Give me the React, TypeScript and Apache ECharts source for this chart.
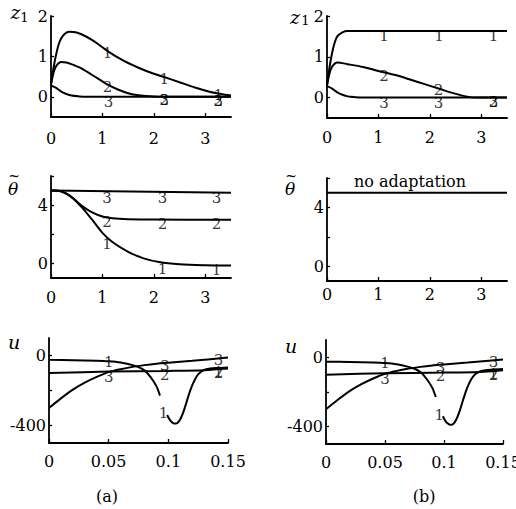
import React, { useEffect, useRef } from "react";
import * as echarts from "echarts";

// ---------- data ----------
const zTicks = [0, 1, 2, 3];
const uTicks = [0, 0.05, 0.1, 0.15];
const z1YLabels = [0, 1, 2];
const thYLabels = [0, 4];
const thYTicks = [0, 2, 4, 6];
const uYLabels = [0, -400];
const uYTicks = [0, -200, -400];

// (a) z1
const z1A1 = [[0, 0.3], [0.05, 0.72], [0.1, 1.05], [0.15, 1.3], [0.2, 1.45], [0.27, 1.56], [0.35, 1.61], [0.5, 1.59], [0.7, 1.48], [0.9, 1.32], [1.1, 1.13], [1.4, 0.9], [1.7, 0.72], [2.0, 0.57], [2.2, 0.49], [2.5, 0.36], [2.8, 0.23], [3.1, 0.12], [3.3, 0.07], [3.5, 0.03]];
const z1A2 = [[0, 0.3], [0.05, 0.6], [0.1, 0.76], [0.2, 0.86], [0.3, 0.85], [0.45, 0.78], [0.6, 0.7], [0.8, 0.54], [1.0, 0.38], [1.1, 0.3], [1.3, 0.18], [1.5, 0.09], [1.7, 0.04], [2.0, 0.01], [2.5, 0], [3.5, 0]];
const z1A3 = [[0, 0.28], [0.1, 0.22], [0.2, 0.13], [0.3, 0.07], [0.4, 0.03], [0.55, 0.01], [0.7, 0], [3.5, 0]];
// (b) z1
const z1B1 = [[0, 0.3], [0.05, 0.75], [0.1, 1.1], [0.15, 1.35], [0.2, 1.5], [0.3, 1.6], [0.4, 1.63], [0.6, 1.63], [3.5, 1.63]];
const z1B2 = [[0, 0.3], [0.05, 0.6], [0.1, 0.76], [0.2, 0.86], [0.4, 0.82], [0.7, 0.75], [1.1, 0.62], [1.4, 0.53], [1.6, 0.45], [1.9, 0.33], [2.2, 0.21], [2.45, 0.11], [2.7, 0.03], [2.9, 0], [3.5, 0]];
const z1B3 = [[0, 0.28], [0.1, 0.22], [0.2, 0.13], [0.3, 0.07], [0.4, 0.03], [0.55, 0.01], [0.7, 0], [3.5, 0]];
// (a) theta
const thA1 = [[0, 5], [0.2, 4.95], [0.4, 4.55], [0.6, 3.85], [0.8, 3.0], [1.0, 2.1], [1.2, 1.45], [1.5, 0.8], [1.8, 0.35], [2.1, 0.1], [2.5, -0.05], [3.0, -0.12], [3.5, -0.15]];
const thA2 = [[0, 5], [0.2, 4.93], [0.4, 4.55], [0.6, 3.95], [0.8, 3.5], [1.0, 3.22], [1.2, 3.1], [1.5, 3.04], [2.0, 3.01], [3.5, 3.0]];
const thA3 = [[0, 5], [3.5, 4.85]];
// (b) theta
const thB = [[0, 5], [3.5, 5]];
// u (same in a and b)
const u1 = [[0, -25], [0.02, -27], [0.04, -30], [0.05, -33], [0.06, -40], [0.07, -55], [0.075, -66], [0.08, -85], [0.085, -122], [0.09, -175], [0.093, -229], [0.096, null], [0.099, -340], [0.101, -365], [0.103, -381], [0.105, -389], [0.107, -388], [0.109, -375], [0.111, -350], [0.113, -315], [0.115, -272], [0.117, -228], [0.119, -188], [0.121, -155], [0.123, -128], [0.125, -108], [0.128, -90], [0.131, -80], [0.135, -74], [0.14, -71], [0.15, -68]];
const u2 = [[0, -100], [0.05, -92], [0.1, -88], [0.13, -84], [0.15, -75]];
const u3 = [[0, -300], [0.01, -245], [0.02, -195], [0.03, -155], [0.04, -122], [0.05, -95], [0.06, -78], [0.07, -65], [0.08, -55], [0.09, -47], [0.1, -41], [0.12, -30], [0.15, -12]];

// curve number labels [x, y, text]
const zALabels = [[1.1, 1.08, "1"], [2.2, 0.43, "1"], [3.25, 0.05, "1"], [1.1, 0.24, "2"], [2.2, -0.09, "2"], [3.25, -0.11, "2"], [1.12, -0.14, "3"], [2.2, -0.09, "3"], [3.25, -0.11, "3"]];
const zBLabels = [[1.11, 1.5, "1"], [2.18, 1.5, "1"], [3.24, 1.5, "1"], [1.11, 0.52, "2"], [2.17, 0.18, "2"], [3.24, -0.12, "2"], [1.11, -0.13, "3"], [2.17, -0.13, "3"], [3.24, -0.12, "3"]];
const thALabels = [[1.09, 4.46, "3"], [2.17, 4.46, "3"], [3.22, 4.46, "3"], [1.09, 2.85, "2"], [2.17, 2.73, "2"], [3.22, 2.73, "2"], [1.09, 1.36, "1"], [2.17, -0.37, "1"], [3.22, -0.48, "1"]];
const uLabels = [[0.05, -35, "1"], [0.05, -125, "3"], [0.097, -60, "3"], [0.097, -110, "2"], [0.096, -330, "1"], [0.142, -28, "3"], [0.142, -95, "1"], [0.142, -100, "2"]];

// ---------- option ----------
const FONT = "DejaVu Serif";
const BLACK = "#000";

const grids = [
  { left: 51, top: 16, width: 180, height: 101 },
  { left: 327, top: 16, width: 180, height: 102 },
  { left: 51, top: 176, width: 180, height: 102 },
  { left: 327, top: 178, width: 180, height: 103 },
  { left: 49, top: 338, width: 179, height: 105 },
  { left: 326, top: 340, width: 177, height: 104 },
];

function mkX(i: number, max: number, ticks: number[], margin: number) {
  return {
    type: "value", gridIndex: i, min: 0, max,
    axisLine: { show: true, onZero: false, lineStyle: { color: BLACK, width: 1.8 } },
    axisTick: { show: true, inside: true, length: 4, customValues: ticks, lineStyle: { color: BLACK, width: 1.3 } },
    axisLabel: { show: true, customValues: ticks, margin, color: BLACK, fontFamily: FONT, fontSize: 16, formatter: (v: number) => String(v) },
    splitLine: { show: false },
  };
}
function mkY(i: number, min: number, max: number, labels: number[], ticks: number[]) {
  return {
    type: "value", gridIndex: i, min, max,
    axisLine: { show: true, onZero: false, lineStyle: { color: BLACK, width: 1.8 } },
    axisTick: { show: true, inside: true, length: 3, customValues: ticks, lineStyle: { color: BLACK, width: 1.3 } },
    axisLabel: { show: true, customValues: labels, margin: 3, color: BLACK, fontFamily: FONT, fontSize: 16, formatter: (v: number) => String(v) },
    splitLine: { show: false },
  };
}
function line(i: number, data: any[]) {
  return {
    type: "line", xAxisIndex: i, yAxisIndex: i, data, showSymbol: false, symbol: "none",
    smooth: 0.3, connectNulls: false,
    lineStyle: { color: BLACK, width: 2 }, silent: true,
  };
}
function labels(i: number, arr: any[]) {
  return {
    type: "scatter", xAxisIndex: i, yAxisIndex: i, symbolSize: 0.1, silent: true,
    itemStyle: { color: "transparent" },
    data: arr.map((l) => ({ value: [l[0], l[1]], label: { formatter: l[2] } })),
    label: { show: true, position: "inside", color: BLACK, fontFamily: FONT, fontSize: 15 },
  };
}
function txt(x: number, y: number, text: string, size: number, italic = false) {
  return {
    type: "text", x, y, silent: true,
    style: {
      text, fill: BLACK, fontFamily: FONT, fontSize: size, fontStyle: italic ? "italic" : "normal",
      align: "center", verticalAlign: "middle", textAlign: "center", textVerticalAlign: "middle",
    },
  };
}

const option = {
  animation: false,
  backgroundColor: "#fff",
  grid: grids.map((g) => ({ ...g, containLabel: false, outerBoundsMode: "none" })),
  xAxis: [
    mkX(0, 3.5, zTicks, 13), mkX(1, 3.5, zTicks, 11.5), mkX(2, 3.5, zTicks, 11.5),
    mkX(3, 3.5, zTicks, 5), mkX(4, 0.15, uTicks, 10), mkX(5, 0.15, uTicks, 10.5),
  ],
  yAxis: [
    mkY(0, -0.5, 2, z1YLabels, z1YLabels), mkY(1, -0.5, 2, z1YLabels, z1YLabels),
    mkY(2, -1, 6, thYLabels, thYTicks), mkY(3, -1, 6, thYLabels, thYTicks),
    mkY(4, -500, 100, uYLabels, uYTicks), mkY(5, -500, 100, uYLabels, uYTicks),
  ],
  series: [
    line(0, z1A1), line(0, z1A2), line(0, z1A3), labels(0, zALabels),
    line(1, z1B1), line(1, z1B2), line(1, z1B3), labels(1, zBLabels),
    line(2, thA1), line(2, thA2), line(2, thA3), labels(2, thALabels),
    line(3, thB),
    line(4, u1), line(4, u2), line(4, u3), labels(4, uLabels),
    line(5, u1), line(5, u2), line(5, u3), labels(5, uLabels),
  ],
  graphic: [
    txt(15.5, 12, "z", 19, true), txt(24.5, 17, "1", 13),
    txt(295, 17, "z", 19, true), txt(305.5, 20, "1", 13),
    txt(13, 188.5, "θ", 17, true), txt(14, 175.5, "~", 14),
    txt(290, 189, "θ", 17, true), txt(291, 175.5, "~", 14),
    txt(14, 342, "u", 19, true), txt(291, 346, "u", 19, true),
    txt(410, 181, "no adaptation", 16),
    txt(107, 496, "(a)", 16), txt(424, 496, "(b)", 16),
  ],
};

export default function App() {
  const ref = useRef<HTMLDivElement>(null);
  useEffect(() => {
    const chart = echarts.init(ref.current!, null, { renderer: "svg" });
    chart.setOption(option as any);
    return () => chart.dispose();
  }, []);
  return (
    <div
      ref={ref}
      style={{ position: "fixed", left: 0, top: 0, width: 516, height: 509, background: "#fff" }}
    />
  );
}
